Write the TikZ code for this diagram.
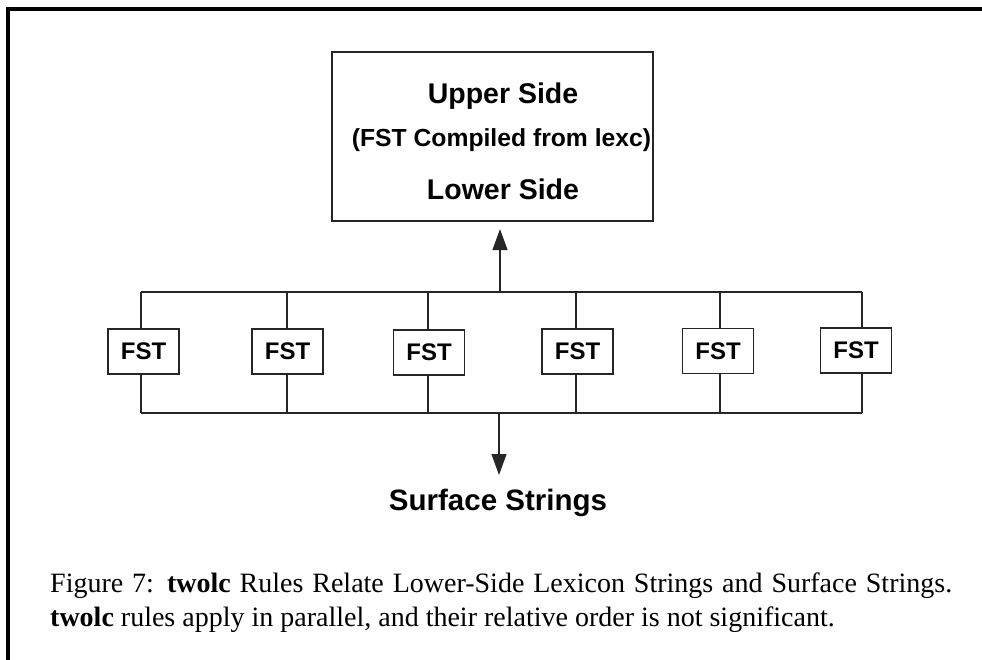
\documentclass[tikz,border=0pt]{standalone}
\usepackage{fontspec}
\setmainfont{Liberation Serif}
\setsansfont{Liberation Sans}
\usetikzlibrary{arrows.meta}
\tikzset{
  ln/.style={line width=1.2pt, draw=black!85},
  fstbox/.style={draw=black!85, line width=1.2pt, minimum width=71pt, minimum height=45pt, inner sep=0pt,
    font=\sffamily\bfseries\fontsize{24}{28}\selectfont},
  bigtxt/.style={font=\sffamily\bfseries\fontsize{28.5}{33}\selectfont, inner sep=0pt, anchor=base},
  midtxt/.style={font=\sffamily\bfseries\fontsize{24.7}{30}\selectfont, inner sep=0pt, anchor=base},
  sstxt/.style={font=\sffamily\bfseries\fontsize{29.5}{34}\selectfont, inner sep=0pt, anchor=base},
  captxt/.style={font=\fontsize{28}{34}\selectfont, inner sep=0pt, anchor=base west},
  arr/.style={ln, -{Triangle[length=21pt, width=15pt]}},
  frame/.style={line width=3.8pt, line cap=butt}
}
\begin{document}
\begin{tikzpicture}[x=1pt, y=-1pt]
\useasboundingbox (0,0) rectangle (982,660);
% frame
\coordinate (fc) at (8,9);
\coordinate (fr) at (982,9);
\coordinate (fb) at (8,660);
\draw[frame] (fr) -- (fc) -- (fb);
% main box
\node[draw=black!85, line width=1.2pt, minimum width=321pt, minimum height=169pt, inner sep=0pt] (lex) at (492.5,136.5) {};
\node[bigtxt] (up) at (503,104) {Upper Side};
\node[midtxt] (cmp) at (501.5,147) {(FST Compiled from lexc)};
\node[bigtxt] (low) at (503,200) {Lower Side};
% buses
\coordinate (tl) at (141,292);
\coordinate (tr) at (862,292);
\coordinate (bl) at (141,413);
\coordinate (br) at (862,413);
\coordinate (tm) at (500,292);
\coordinate (bm) at (499,413);
\draw[ln] (tl) -- (tr);
\draw[ln] (bl) -- (br);
% FST boxes
\node[fstbox] (f1) at (143.5,351.5) {FST};
\node[fstbox] (f2) at (287.5,351.5) {FST};
\node[fstbox] (f3) at (429,352.5) {FST};
\node[fstbox] (f4) at (577.5,351.5) {FST};
\node[fstbox] (f5) at (718,351) {FST};
\node[fstbox] (f6) at (856,350.5) {FST};
\foreach \i/\x in {1/141,2/287,3/428,4/576,5/720,6/862}{
  \coordinate (t\i) at (\x,292);
  \coordinate (b\i) at (\x,413);
  \draw[ln] (t\i) -- (t\i |- f\i.north);
  \draw[ln] (f\i.south -| b\i) -- (b\i);
}
% arrows
\draw[arr, shorten >=7.5pt] (tm) -- (tm |- lex.south);
\node[sstxt] (ss) at (498,510) {Surface Strings};
\coordinate (sstop) at (499,475);
\draw[arr] (bm) -- (sstop);
% caption
\node[captxt] (cap1) at (50,592) {\hbox to 902pt{Figure 7: \textbf{twolc} Rules Relate Lower-Side Lexicon Strings and Surface Strings.}};
\node[captxt] (cap2) at (50,626.5) {\textbf{twolc} rules apply in parallel, and their relative order is not significant.};
\end{tikzpicture}
\end{document}
